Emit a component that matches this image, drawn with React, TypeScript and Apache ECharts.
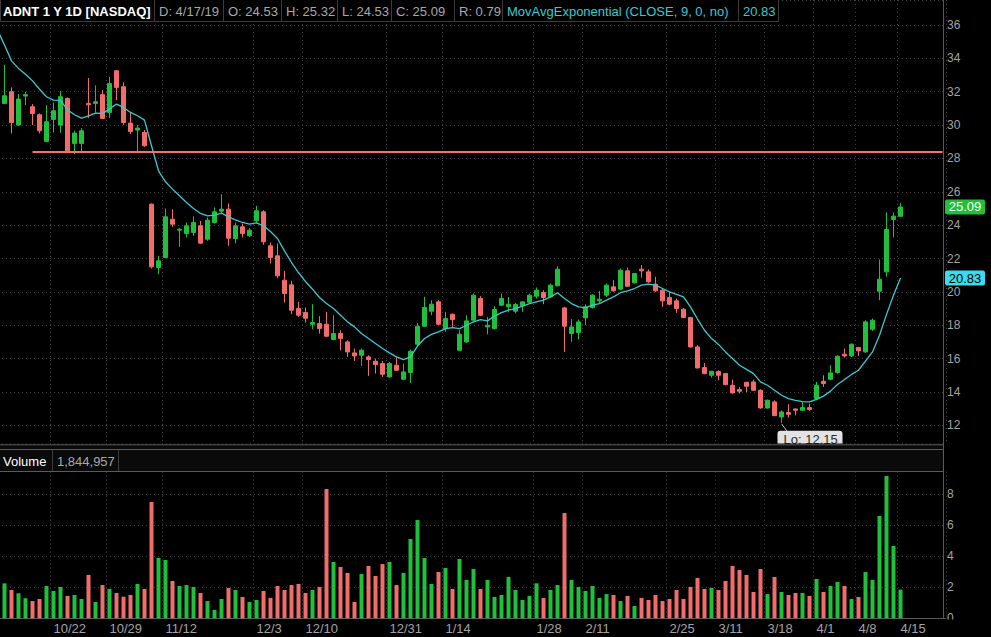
import React, { useEffect, useRef } from 'react';
import * as echarts from 'echarts';

const W = 991;
const H = 637;
const UP = '#1fc03b';
const DOWN = '#f26c6c';
const EMA_C = '#3cc8d2';
const GRID_C = '#404040';
const AXIS_C = '#5a5a5a';
const FONT = '"Liberation Sans", Arial, sans-serif';

// [open, close, low, high]
const candles: number[][] = [
  [31.3, 31.76, 31.26, 33.62], [32.0, 30.16, 29.5, 32.26], [30.0, 31.56, 29.96, 31.86], [31.74, 31.82, 31.2, 32.0],
  [31.1, 30.7, 30.0, 31.26], [30.62, 29.66, 29.5, 30.7], [29.02, 30.2, 29.0, 31.2], [30.34, 30.86, 29.56, 31.36],
  [30.0, 31.7, 29.54, 32.06], [31.6, 28.46, 28.46, 31.66], [28.9, 29.52, 28.26, 29.66], [28.9, 29.66, 28.42, 29.82],
  [31.3, 31.22, 30.42, 32.82], [31.3, 31.4, 30.76, 32.38], [31.82, 30.4, 30.36, 32.1], [30.76, 32.5, 30.42, 32.9],
  [33.26, 32.26, 31.5, 33.3], [32.3, 30.16, 30.0, 32.56], [30.12, 29.62, 29.46, 30.76], [29.7, 29.82, 28.42, 30.0],
  [29.56, 28.76, 28.7, 29.7], [25.26, 21.5, 21.4, 25.3], [21.46, 21.86, 21.06, 22.16], [22.06, 24.5, 22.02, 25.0],
  [24.36, 24.06, 23.9, 24.96], [23.7, 23.76, 22.7, 23.82], [23.5, 23.96, 23.26, 24.16], [23.56, 24.16, 23.36, 24.52],
  [23.96, 22.92, 22.86, 24.26], [23.16, 24.3, 23.06, 24.46], [24.16, 24.8, 24.1, 25.06], [24.84, 24.96, 24.66, 25.86],
  [24.96, 23.22, 22.76, 25.3], [23.2, 23.96, 22.9, 24.16], [23.9, 23.5, 23.26, 24.1], [23.36, 23.7, 23.3, 23.82],
  [24.26, 24.86, 24.16, 25.16], [24.8, 23.0, 22.82, 24.9], [22.76, 22.06, 21.7, 22.96], [22.16, 20.96, 20.82, 22.9],
  [20.7, 19.9, 19.36, 21.26], [20.42, 18.9, 18.66, 20.66], [19.0, 18.6, 18.5, 19.4], [18.76, 18.42, 18.16, 19.06],
  [18.06, 18.16, 17.76, 19.26], [18.1, 17.8, 17.5, 18.54], [18.06, 17.34, 17.3, 18.8], [17.14, 17.5, 17.1, 18.6],
  [17.5, 17.2, 16.5, 17.7], [17.0, 16.4, 16.1, 17.1], [16.34, 16.16, 15.86, 16.6], [16.2, 16.5, 15.56, 16.6],
  [16.1, 15.94, 14.96, 16.2], [15.84, 15.64, 15.1, 16.0], [15.7, 15.06, 14.9, 15.86], [14.9, 15.7, 14.86, 15.8],
  [15.6, 15.3, 15.26, 16.1], [14.76, 15.2, 14.7, 15.7], [15.16, 16.44, 14.54, 16.54], [16.86, 17.94, 16.74, 18.14],
  [17.94, 19.06, 17.9, 19.7], [18.84, 19.26, 18.6, 19.5], [19.4, 18.06, 18.0, 19.5], [17.8, 18.4, 17.6, 18.8],
  [18.66, 18.34, 17.86, 18.7], [16.5, 17.46, 16.46, 17.7], [17.0, 18.26, 16.94, 18.6], [18.3, 19.8, 18.26, 19.9],
  [19.6, 18.6, 18.54, 19.74], [17.9, 18.0, 17.46, 18.5], [17.8, 18.94, 17.74, 19.14], [19.2, 19.6, 19.14, 19.9],
  [19.1, 19.26, 18.8, 19.7], [18.84, 19.24, 18.7, 19.34], [19.18, 19.4, 18.8, 19.4], [19.38, 19.8, 19.3, 19.9],
  [19.74, 20.1, 19.6, 20.26], [19.96, 19.66, 19.26, 20.1], [19.7, 20.4, 19.66, 20.5], [20.36, 21.36, 20.34, 21.54],
  [19.04, 17.94, 16.4, 19.1], [17.5, 17.9, 17.0, 18.36], [17.56, 18.2, 17.14, 18.34], [18.44, 19.1, 18.0, 19.26],
  [19.06, 19.8, 19.0, 19.86], [19.46, 19.56, 19.3, 20.06], [19.8, 20.4, 19.7, 20.5], [20.3, 20.06, 20.0, 20.7],
  [20.16, 21.3, 20.1, 21.4], [21.26, 20.34, 20.3, 21.45], [20.54, 21.1, 20.5, 21.14], [21.36, 21.26, 20.86, 21.6],
  [21.2, 20.6, 20.54, 21.34], [20.46, 20.06, 20.0, 20.9], [20.1, 19.46, 19.1, 20.2], [19.66, 19.26, 19.2, 20.0],
  [19.46, 19.0, 18.74, 19.6], [18.96, 18.46, 18.42, 19.04], [18.46, 16.7, 16.66, 18.5], [16.7, 15.44, 15.4, 16.8],
  [15.46, 15.1, 15.06, 15.74], [15.0, 15.24, 14.86, 15.26], [15.22, 15.0, 14.7, 15.3], [15.1, 14.44, 14.4, 15.14],
  [14.4, 13.94, 13.9, 14.74], [14.14, 14.04, 13.9, 14.3], [14.58, 14.34, 14.0, 14.6], [14.6, 14.1, 14.06, 14.74],
  [14.1, 13.04, 13.0, 14.16], [13.04, 13.5, 13.0, 13.54], [13.4, 12.58, 12.54, 13.5], [12.5, 12.8, 12.15, 12.9],
  [12.76, 12.66, 12.46, 13.26], [12.98, 12.9, 12.6, 13.0], [12.9, 13.06, 12.9, 13.4], [13.06, 12.94, 12.86, 13.3],
  [13.6, 14.4, 13.5, 14.6], [14.64, 14.5, 14.3, 15.0], [14.76, 15.14, 14.7, 15.6], [15.16, 16.14, 15.1, 16.2],
  [16.26, 16.16, 16.06, 16.6], [16.16, 16.86, 16.1, 16.9], [16.66, 16.46, 16.16, 16.7], [16.4, 18.2, 16.34, 18.3],
  [17.76, 18.3, 17.66, 18.4], [20.04, 20.76, 19.5, 21.94], [21.2, 23.74, 20.9, 24.76], [24.34, 24.54, 23.26, 24.76],
  [24.53, 25.09, 24.53, 25.32],
];

// millions of shares
const volumes: number[] = [
  2.25, 1.82, 1.61, 1.29, 1.11, 1.24, 2.08, 1.76, 2.02, 1.44,
  1.5, 1.24, 2.79, 1.05, 2.14, 1.89, 1.63, 1.39, 1.5, 2.21,
  1.89, 7.48, 3.88, 3.75, 2.4, 2.08, 2.14, 2.02, 1.63, 1.11,
  0.54, 1.24, 1.95, 1.82, 1.37, 1.05, 1.18, 1.76, 1.31, 2.08,
  1.82, 2.14, 2.21, 1.63, 1.82, 2.02, 8.32, 3.62, 3.3, 2.92,
  1.05, 2.85, 3.37, 2.72, 3.49, 3.62, 2.14, 2.92, 5.1, 6.32,
  3.88, 2.21, 2.98, 3.24, 1.89, 3.82, 2.47, 3.17, 1.89, 2.47,
  1.37, 1.5, 2.66, 1.82, 1.18, 1.44, 2.25, 1.31, 1.82, 2.14,
  6.77, 2.47, 2.02, 1.76, 2.08, 1.31, 1.56, 1.5, 1.11, 1.44,
  0.79, 1.31, 1.18, 1.5, 1.11, 1.24, 1.82, 1.24, 2.02, 2.59,
  1.89, 1.95, 1.82, 2.4, 3.37, 3.11, 2.79, 1.69, 3.17, 1.56,
  2.66, 1.69, 1.5, 1.63, 1.63, 1.44, 2.53, 1.69, 2.08, 2.34,
  2.08, 1.24, 1.37, 2.98, 2.47, 6.58, 9.15, 4.65, 1.845,
];

// MovAvgExponential (CLOSE, 9); emaBefore is the point just left of the view
const emaBefore = 35.7;
const emaValues: number[] = [
  34.8, 33.85, 33.4, 33.05, 32.65, 32.15, 31.7, 31.5, 31.48, 30.92,
  30.62, 30.42, 30.55, 30.72, 30.7, 30.96, 31.26, 31.06, 30.76, 30.56,
  30.3, 28.76, 27.26, 26.6, 26.16, 25.76, 25.36, 25.0, 24.7, 24.56,
  24.6, 24.72, 24.5, 24.32, 24.16, 24.06, 24.14, 23.96, 23.62, 23.2,
  22.46, 21.76, 21.16, 20.62, 20.16, 19.66, 19.3, 19.0, 18.6, 18.2,
  17.9, 17.5, 17.2, 16.9, 16.6, 16.34, 16.1, 15.94, 16.1, 16.75,
  17.2, 17.45, 17.6, 17.8, 17.85, 17.8, 18.0, 18.2, 18.34, 18.26,
  18.55, 18.75, 18.9, 19.0, 19.14, 19.3, 19.4, 19.5, 19.7, 19.94,
  19.6, 19.3, 19.1, 19.06, 19.2, 19.3, 19.5, 19.7, 19.95, 20.06,
  20.2, 20.4, 20.46, 20.4, 20.2, 20.0, 19.85, 19.7, 19.1, 18.37,
  17.7, 17.2, 16.85, 16.4, 16.0, 15.6, 15.35, 15.1, 14.6, 14.4,
  14.1, 13.8, 13.6, 13.5, 13.42, 13.4, 13.55, 13.75, 14.05, 14.45,
  14.75, 15.05, 15.3, 15.85, 16.4, 17.4, 18.65, 19.8, 20.83,
];

const tickIndex: number[] = [7, 15, 23, 36, 43, 55, 63, 76, 83, 95, 102, 109, 116, 122, 128];
const tickLabels: string[] = ['10/22', '10/29', '11/12', '12/3', '12/10', '12/31', '1/14', '1/28', '2/11', '2/25', '3/11', '3/18', '4/1', '4/8', '4/15'];

const resistance = 28.38;
const resistanceStart = 4;
const title = 'ADNT 1 Y 1D [NASDAQ]';
const lastDate = '4/17/19';
const studyName = 'MovAvgExponential (CLOSE, 9, 0, no)';
const volumeLabel = 'Volume';
const lastVolumeText = '1,844,957';
const lowIndex = 111;

// one hidden slot on the left (index -1), bars 0..128, empty slots on the right
const N_CAT = 136;
const cats = Array.from({ length: N_CAT }, (_, k) => String(k - 1));
const cn = (i: number) => String(i);

export default function App() {
  const ref = useRef<HTMLDivElement>(null);

  useEffect(() => {
    const chart = echarts.init(ref.current!, null, { renderer: 'svg' });
    const tickSet = new Set(tickIndex.map((t) => t + 1));
    const labelOf: Record<string, string> = {};
    tickIndex.forEach((t, k) => (labelOf[cn(t)] = tickLabels[k]));
    const last = candles[candles.length - 1];
    const lastEma = emaValues[emaValues.length - 1];

    const dotted = { color: GRID_C, type: [1, 3] as any, width: 1 };

    chart.setOption({
      animation: false,
      backgroundColor: '#000',
      textStyle: { fontFamily: FONT },
      grid: [
        { left: -6, top: 0, width: 952, height: 443.3, outerBoundsMode: 'none', containLabel: false },
        { left: -6, top: 471.7, width: 952, height: 146.6, outerBoundsMode: 'none', containLabel: false },
      ],
      xAxis: [
        {
          type: 'category', gridIndex: 0, data: cats, boundaryGap: true,
          axisLine: { show: false }, axisTick: { show: false }, axisLabel: { show: false },
          splitLine: { show: true, interval: (i: number) => tickSet.has(i), lineStyle: dotted },
        },
        {
          type: 'category', gridIndex: 1, data: cats, boundaryGap: true,
          axisLine: { show: true, lineStyle: { color: AXIS_C } }, axisTick: { show: false },
          axisLabel: {
            show: true, interval: (i: number) => tickSet.has(i),
            formatter: (v: string) => labelOf[v] ?? '',
            align: 'left', color: '#a3a3a3', fontSize: 13, margin: 4, fontFamily: FONT,
          },
          splitLine: { show: true, interval: (i: number) => tickSet.has(i), lineStyle: dotted },
        },
      ],
      yAxis: [
        {
          type: 'value', gridIndex: 0, position: 'right', min: 10.92, max: 37.5,
          splitNumber: 13, minInterval: 2, maxInterval: 2, scale: true,
          axisLine: { show: false }, axisTick: { show: false },
          axisLabel: { color: '#a3a3a3', fontSize: 12, margin: 1, showMinLabel: false, showMaxLabel: false, fontFamily: FONT },
          splitLine: { show: true, lineStyle: dotted },
        },
        {
          type: 'value', gridIndex: 1, position: 'right', min: 0, max: 9.43, interval: 2,
          axisLine: { show: false }, axisTick: { show: false },
          axisLabel: { color: '#a3a3a3', fontSize: 12, margin: 1, showMaxLabel: false, fontFamily: FONT },
          splitLine: { show: true, lineStyle: dotted },
        },
      ],
      series: [
        {
          type: 'candlestick', xAxisIndex: 0, yAxisIndex: 0, barWidth: 5,
          data: candles.map((c, i) => [cn(i), c[0], c[1], c[2], c[3]]),
          encode: { x: 0, y: [1, 2, 3, 4] },
          itemStyle: { color: UP, color0: DOWN, borderColor: UP, borderColor0: DOWN, borderWidth: 1 },
          markLine: {
            silent: true, symbol: ['none', 'none'], label: { show: false },
            lineStyle: { color: '#f27272', width: 2, type: 'solid' },
            data: [[{ coord: [cn(resistanceStart), resistance] }, { coord: [cats[N_CAT - 1], resistance] }]],
          },
          z: 3,
        },
        {
          type: 'line', xAxisIndex: 0, yAxisIndex: 0, symbol: 'none',
          data: [[cn(-1), emaBefore], ...emaValues.map((v, i) => [cn(i), v])],
          lineStyle: { color: EMA_C, width: 1.3 }, z: 4,
        },
        {
          type: 'bar', xAxisIndex: 1, yAxisIndex: 1, barWidth: 4,
          data: volumes.map((v, i) => ({
            value: [cn(i), v],
            itemStyle: { color: candles[i][1] >= candles[i][0] ? UP : DOWN },
          })),
        },
      ],
    });

    const px = (i: number, v: number) => chart.convertToPixel({ xAxisIndex: 0, yAxisIndex: 0 } as any, [cn(i), v]) as number[];
    const yClose = px(0, last[1])[1];
    const yEma = px(0, lastEma)[1];
    const [lx, ly] = px(lowIndex, candles[lowIndex][2]);

    const headerCells = [
      { x0: 0, x1: 154, text: title, fill: '#ffffff', bold: true },
      { x0: 154, x1: 223, text: `D: ${lastDate}`, fill: '#a8a8a8' },
      { x0: 223, x1: 281, text: `O: ${last[0].toFixed(2)}`, fill: '#a8a8a8' },
      { x0: 281, x1: 337, text: `H: ${last[3].toFixed(2)}`, fill: '#a8a8a8' },
      { x0: 337, x1: 391, text: `L: ${last[2].toFixed(2)}`, fill: '#a8a8a8' },
      { x0: 391, x1: 454, text: `C: ${last[1].toFixed(2)}`, fill: '#a8a8a8' },
      { x0: 454, x1: 502, text: `R: ${(last[3] - last[2]).toFixed(2)}`, fill: '#a8a8a8' },
      { x0: 502, x1: 738, text: studyName, fill: EMA_C },
      { x0: 738, x1: 778, text: lastEma.toFixed(2), fill: EMA_C },
    ];

    const g: any[] = [];
    // Lo label (drawn first so the panel separator cuts it)
    g.push({ type: 'line', z: 50, shape: { x1: lx, y1: ly + 1, x2: lx + 6, y2: ly + 9 }, style: { stroke: '#bdbdbd', lineWidth: 1 } });
    g.push({ type: 'rect', z: 50, shape: { x: lx - 4, y: ly + 8, width: 65, height: 18, r: 3 }, style: { fill: '#e2e2e2' } });
    g.push({ type: 'text', z: 51, x: lx + 2, y: ly + 10, style: { text: `Lo: ${candles[lowIndex][2].toFixed(2)}`, fill: '#2a2a2a', font: `13px ${FONT}`, textVerticalAlign: 'top', verticalAlign: 'top' } });

    // header row
    headerCells.forEach((c) => {
      g.push({ type: 'rect', z: 60, shape: { x: c.x0 + 0.5, y: -1, width: c.x1 - c.x0, height: 22.5 }, style: { fill: '#000', stroke: '#3c3c3c', lineWidth: 1 } });
      g.push({
        type: 'text', z: 61, x: c.x0 === 0 ? 3 : c.x0 + 5, y: 11,
        style: { text: c.text, fill: c.fill, font: `${c.bold ? 'bold ' : ''}13px ${FONT}`, textVerticalAlign: 'middle', verticalAlign: 'middle' },
      });
    });

    // separator between panels and volume header
    g.push({ type: 'rect', z: 60, shape: { x: 0, y: 443.5, width: 943, height: 28 }, style: { fill: '#0a0a0a' } });
    g.push({ type: 'line', z: 61, shape: { x1: 0, y1: 444.8, x2: 943, y2: 444.8 }, style: { stroke: AXIS_C, lineWidth: 1 } });
    g.push({ type: 'line', z: 61, shape: { x1: 0, y1: 449.5, x2: 943, y2: 449.5 }, style: { stroke: AXIS_C, lineWidth: 1 } });
    g.push({ type: 'line', z: 61, shape: { x1: 0, y1: 471.5, x2: 943, y2: 471.5 }, style: { stroke: AXIS_C, lineWidth: 1 } });
    g.push({ type: 'line', z: 61, shape: { x1: 52.5, y1: 450, x2: 52.5, y2: 471 }, style: { stroke: '#3c3c3c', lineWidth: 1 } });
    g.push({ type: 'line', z: 61, shape: { x1: 118.5, y1: 450, x2: 118.5, y2: 471 }, style: { stroke: '#3c3c3c', lineWidth: 1 } });
    g.push({ type: 'text', z: 62, x: 3, y: 461, style: { text: volumeLabel, fill: '#ffffff', font: `13px ${FONT}`, textVerticalAlign: 'middle', verticalAlign: 'middle' } });
    g.push({ type: 'text', z: 62, x: 57, y: 461, style: { text: lastVolumeText, fill: '#a8a8a8', font: `13px ${FONT}`, textVerticalAlign: 'middle', verticalAlign: 'middle' } });

    // right axis line
    g.push({ type: 'line', z: 62, shape: { x1: 943.5, y1: 0, x2: 943.5, y2: 618.5 }, style: { stroke: AXIS_C, lineWidth: 1 } });
    // hide lower half of the volume "0" label
    g.push({ type: 'rect', z: 62, shape: { x: 944, y: 619.5, width: 47, height: 18 }, style: { fill: '#000' } });

    // price boxes
    g.push({ type: 'rect', z: 63, shape: { x: 945, y: yClose - 7.5, width: 40, height: 15, r: 2 }, style: { fill: UP } });
    g.push({ type: 'text', z: 64, x: 965, y: yClose, style: { text: last[1].toFixed(2), fill: '#ffffff', font: `13px ${FONT}`, textAlign: 'center', align: 'center', textVerticalAlign: 'middle', verticalAlign: 'middle' } });
    g.push({ type: 'rect', z: 63, shape: { x: 945, y: yEma - 7.5, width: 40, height: 15, r: 2 }, style: { fill: '#38dcec' } });
    g.push({ type: 'text', z: 64, x: 965, y: yEma, style: { text: lastEma.toFixed(2), fill: '#000000', font: `13px ${FONT}`, textAlign: 'center', align: 'center', textVerticalAlign: 'middle', verticalAlign: 'middle' } });

    chart.setOption({ graphic: { elements: g } });

    return () => chart.dispose();
  }, []);

  return <div ref={ref} style={{ position: 'fixed', left: 0, top: 0, width: W, height: H }} />;
}
